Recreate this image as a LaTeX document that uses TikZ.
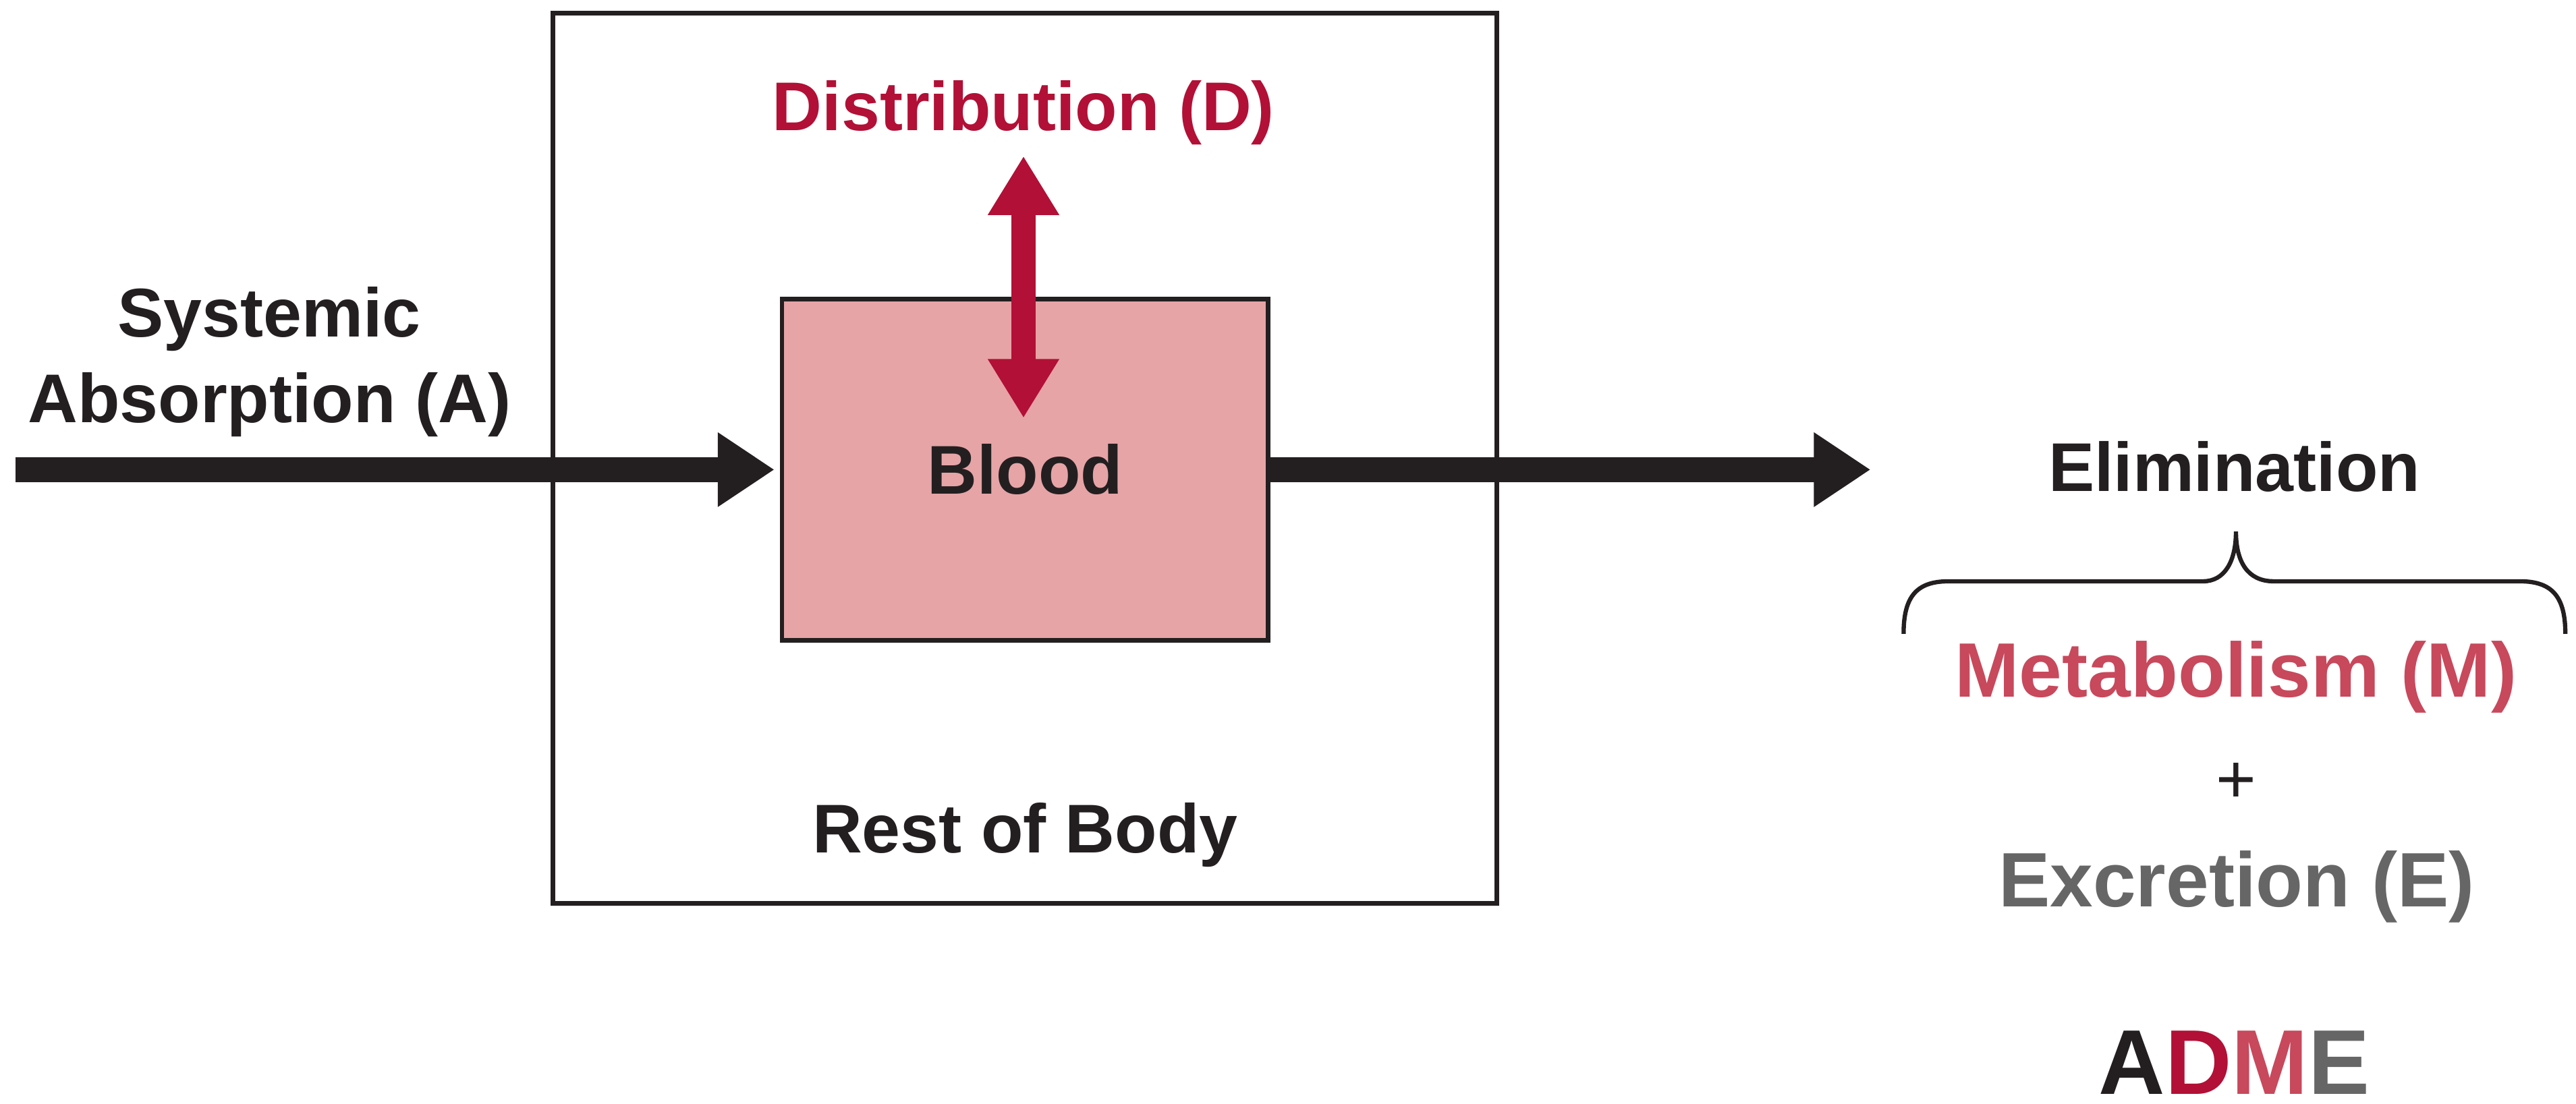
\documentclass[tikz,border=0pt]{standalone}
\usepackage{fontspec}
\setmainfont{Liberation Sans}
\usetikzlibrary{arrows.meta}
\definecolor{ink}{HTML}{231F20}
\definecolor{dred}{HTML}{B21036}
\definecolor{mred}{HTML}{C8485C}
\definecolor{egray}{HTML}{666666}
\definecolor{bloodfill}{HTML}{E6A4A7}
\begin{document}
\begin{tikzpicture}[x=0.5pt,y=-0.5pt,
  lbl/.style={font=\fontsize{21}{25}\selectfont\bfseries, text=ink, inner sep=0pt, anchor=base},
  big/.style={font=\fontsize{23.5}{28}\selectfont\bfseries, inner sep=0pt, anchor=base},
  boxframe/.style={draw=ink, line width=1.4pt, inner sep=0pt},
  flow/.style={line width=7.5pt, draw=ink, -{Triangle[length=17.25pt,width=21.5pt]}},
  dflow/.style={line width=7.3pt, draw=dred, {Triangle[length=18pt,width=20.5pt]}-{Triangle[length=18pt,width=20.5pt]}}]
\useasboundingbox (0,0) rectangle (1568,672);
% boxes
\node[boxframe, minimum width=287.25pt, minimum height=271pt] (body) at (623.75,279) {};
\node[boxframe, fill=bloodfill, minimum width=148pt, minimum height=104pt,
      font=\fontsize{21}{25}\selectfont\bfseries, text=ink] (blood) at (624,286) {Blood};
% labels
\node[lbl, text=dred] (dist) at (623,79.5) {Distribution (D)};
\node[lbl] (sys1) at (164,205.3) {Systemic};
\node[lbl] (sys2) at (164,257.4) {Absorption (A)};
\node[lbl] (rest) at (624,519.5) {Rest of Body};
\node[lbl] (elim) at (1360,299) {Elimination};
\node[big, text=mred] (metab) at (1361,424.3) {Metabolism (M)};
\node[font=\fontsize{21}{25}\selectfont, text=ink, inner sep=0pt] (plus) at (1361,477) {+};
\node[big, text=egray] (excr) at (1361.5,552.3) {Excretion (E)};
\node[font=\fontsize{28}{33}\selectfont\bfseries, inner sep=0pt, anchor=base] (adme) at (1360,666.5)
  {\textcolor{ink}{A}\textcolor{dred}{D}\textcolor{mred}{M}\textcolor{egray}{E}};
% connectors
\coordinate (absstart) at (9.4,286);
\coordinate (elimend) at (1138.6,286);
\coordinate (dtop) at (623,95);
\coordinate (dbot) at (623,254.6);
\draw[flow, shorten >=1.6pt] (absstart) -- (blood.west);
\draw[flow] (blood.east) -- (elimend);
\draw[dflow] (dtop) -- (dbot);
% brace
\draw[ink, line width=1.3pt]
  (1158.7,386) .. controls (1158.7,364) and (1166,354) .. (1186,354)
  -- (1341,354) .. controls (1354,354) and (1361,342) .. (1361,323.7)
  .. controls (1361,342) and (1368,354) .. (1384,354)
  -- (1534,354) .. controls (1554,354) and (1561.5,364) .. (1561.5,386);
\end{tikzpicture}
\end{document}
